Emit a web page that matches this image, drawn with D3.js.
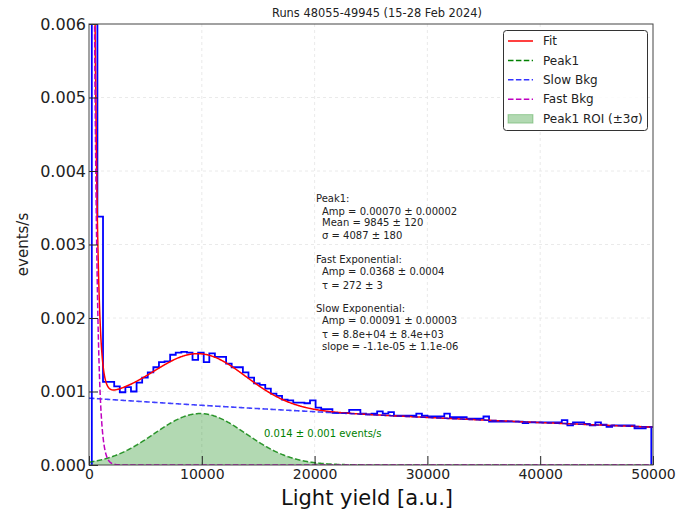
<!DOCTYPE html>
<html>
<head>
<meta charset="utf-8">
<script src="https://cdn.jsdelivr.net/npm/d3@7"></script>
<style>
  body { margin: 0; background: #fff; }
  svg { display: block; }
  text { font-family: "DejaVu Sans", sans-serif; }
</style>
</head>
<body>
<svg width="677" height="512"></svg>
<script>
// histogram (events/s per bin)
var binStart = 250;
var binWidth = 496;
var counts = [
  0.0200, 0.00338, 0.00113, 0.00113, 0.00107, 0.00099, 0.00106, 0.00100, 0.00112, 0.00119,
  0.00126, 0.00133, 0.00140, 0.00141, 0.00150, 0.00153, 0.00154, 0.00153, 0.00143, 0.00153,
  0.00140, 0.00152, 0.00147, 0.00147, 0.00138, 0.00133, 0.00133, 0.00126, 0.00119, 0.00111,
  0.00109, 0.00104, 0.00097, 0.00094, 0.00089, 0.00088, 0.00085, 0.00085, 0.00084, 0.00088,
  0.00078, 0.00076, 0.00076, 0.00071, 0.00071, 0.00071, 0.00075, 0.00075, 0.00070, 0.00069,
  0.00070, 0.00073, 0.00070, 0.00072, 0.00067, 0.00067, 0.00067, 0.00067, 0.00070, 0.00067,
  0.00066, 0.00066, 0.00066, 0.00070, 0.00065, 0.00065, 0.00065, 0.00063, 0.00063, 0.00063,
  0.00066, 0.00059, 0.00059, 0.00059, 0.00059, 0.00059, 0.00059, 0.00057, 0.00058, 0.00058,
  0.00058, 0.00058, 0.00058, 0.00058, 0.00061, 0.00054, 0.00058, 0.00058, 0.00056, 0.00054,
  0.00058, 0.00055, 0.00052, 0.00054, 0.00054, 0.00054, 0.00054, 0.00050, 0.00050, 0.00052
];

// fit parameters shown in the box
var peakParams = [0.00070, 9845, 4087];   // amp, mean, sigma
var fastParams = [0.0368, 272];           // amp, tau
var slowParams = [0.00091, 8.8e4];        // amp, tau

var xTicks = [0, 10000, 20000, 30000, 40000, 50000];
var yTicks = [0, 0.001, 0.002, 0.003, 0.004, 0.005, 0.006];

var statLines = [
  ["Peak1:", 316, 198],
  ["Amp = 0.00070 \u00b1 0.00002", 322, 211],
  ["Mean = 9845 \u00b1 120", 322, 222],
  ["\u03c3 = 4087 \u00b1 180", 322, 235],
  ["Fast Exponential:", 316, 259],
  ["Amp = 0.0368 \u00b1 0.0004", 322, 271],
  ["\u03c4 = 272 \u00b1 3", 322, 285],
  ["Slow Exponential:", 316, 308],
  ["Amp = 0.00091 \u00b1 0.00003", 322, 320],
  ["\u03c4 = 8.8e+04 \u00b1 8.4e+03", 322, 334],
  ["slope = -1.1e-05 \u00b1 1.1e-06", 322, 346]
];

var legendItems = [
  ["Fit", "line", "#ff0000", null],
  ["Peak1", "line", "#008000", "5.5,2.4"],
  ["Slow Bkg", "line", "#3333ff", "5.5,2.4"],
  ["Fast Bkg", "line", "#bf00bf", "5.5,2.4"],
  ["Peak1 ROI (\u00b13\u03c3)", "patch", "#008000", null]
];

var svg = d3.select("svg");
var margin = {left: 89, right: 24, top: 24, bottom: 47};
var W = 677, H = 512;

var x = d3.scaleLinear().domain([0, 50000]).range([margin.left, W - margin.right]);
var y = d3.scaleLinear().domain([0, 0.006]).range([H - margin.bottom, margin.top]);

svg.append("defs").append("clipPath").attr("id", "plotclip")
  .append("rect")
    .attr("x", x(0)).attr("y", y(0.006))
    .attr("width", x(50000) - x(0)).attr("height", y(0) - y(0.006));

// grid
var grid = svg.append("g").attr("class", "grid");
grid.selectAll("line.gx").data(xTicks.slice(1, -1)).enter().append("line")
  .attr("x1", function(d) { return x(d); }).attr("x2", function(d) { return x(d); })
  .attr("y1", y(0)).attr("y2", y(0.006))
  .attr("stroke", "#e4e4e4").attr("stroke-dasharray", "3,3").attr("stroke-width", 0.8);
grid.selectAll("line.gy").data(yTicks.slice(1, -1)).enter().append("line")
  .attr("y1", function(d) { return y(d); }).attr("y2", function(d) { return y(d); })
  .attr("x1", x(0)).attr("x2", x(50000))
  .attr("stroke", "#e4e4e4").attr("stroke-dasharray", "3,3").attr("stroke-width", 0.8);

var plot = svg.append("g").attr("clip-path", "url(#plotclip)");

// model curves
function gauss(v) {
  var z = (v - peakParams[1]) / peakParams[2];
  return peakParams[0] * Math.exp(-0.5 * z * z);
}
function fastExp(v) { return fastParams[0] * Math.exp(-v / fastParams[1]); }
function slowExp(v) { return slowParams[0] * Math.exp(-v / slowParams[1]); }
function total(v) { return gauss(v) + fastExp(v) + slowExp(v); }

var xs = d3.range(0, 2000, 5).concat(d3.range(2000, 50001, 50));

// ROI fill +-3 sigma
var roiLo = Math.max(0, peakParams[1] - 3 * peakParams[2]);
var roiHi = peakParams[1] + 3 * peakParams[2];
var roiXs = xs.filter(function(v) { return v >= roiLo && v <= roiHi; });
plot.append("path")
  .datum(roiXs)
  .attr("fill", "#008000").attr("fill-opacity", 0.3)
  .attr("d", d3.area()
    .x(function(d) { return x(d); })
    .y0(y(0))
    .y1(function(d) { return y(gauss(d)); }));

// histogram
var histPts = [{e: binStart, c: 0}];
counts.forEach(function(c, i) { histPts.push({e: binStart + i * binWidth, c: c}); });
histPts.push({e: binStart + counts.length * binWidth, c: counts[counts.length - 1]});
histPts.push({e: binStart + counts.length * binWidth, c: 0});

plot.append("path")
  .datum(histPts)
  .attr("fill", "none").attr("stroke", "#0000ff").attr("stroke-width", 1.8)
  .attr("d", d3.line()
    .curve(d3.curveStepAfter)
    .x(function(d) { return x(d.e); })
    .y(function(d) { return y(d.c); }));

function curve(fn, color, dash, width, opacity) {
  plot.append("path")
    .datum(xs)
    .attr("fill", "none")
    .attr("stroke", color)
    .attr("stroke-width", width)
    .attr("stroke-opacity", opacity)
    .attr("stroke-dasharray", dash)
    .attr("d", d3.line()
      .x(function(d) { return x(d); })
      .y(function(d) { return y(Math.min(fn(d), 0.01)); }));
}

curve(total, "#ff0000", null, 1.5, 1);
curve(gauss, "#008000", "5.5,2.4", 1.5, 0.8);
curve(slowExp, "#0000ff", "5.5,2.4", 1.6, 0.75);
curve(fastExp, "#bf00bf", "5.5,2.4", 1.5, 1);

// axes
var xAxis = svg.append("g")
  .attr("transform", "translate(0," + y(0) + ")")
  .call(d3.axisBottom(x).tickValues(xTicks).tickFormat(d3.format("d")).tickSizeInner(-9).tickSizeOuter(0).tickPadding(4));
xAxis.select(".domain").remove();
xAxis.selectAll("text").attr("font-size", 14).attr("fill", "#222").attr("font-family", "DejaVu Sans");
xAxis.selectAll("line").attr("stroke", "#222");

var yAxis = svg.append("g")
  .attr("transform", "translate(" + x(0) + ",0)")
  .call(d3.axisLeft(y).tickValues(yTicks).tickFormat(d3.format(".3f")).tickSizeInner(-9).tickSizeOuter(0).tickPadding(3));
yAxis.select(".domain").remove();
yAxis.selectAll("text").attr("font-size", 16).attr("fill", "#222").attr("font-family", "DejaVu Sans");
yAxis.selectAll("line").attr("stroke", "#222");

// frame
svg.append("rect")
  .attr("x", x(0)).attr("y", y(0.006))
  .attr("width", x(50000) - x(0)).attr("height", y(0) - y(0.006))
  .attr("fill", "none").attr("stroke", "#444").attr("stroke-width", 1);

// labels
svg.append("text")
  .attr("x", 367).attr("y", 505)
  .attr("text-anchor", "middle")
  .attr("font-family", "Liberation Sans, Arial, sans-serif")
  .attr("font-size", 21).attr("fill", "#111")
  .text("Light yield [a.u.]");

svg.append("text")
  .attr("transform", "translate(28," + ((y(0) + y(0.006)) / 2) + ") rotate(-90)")
  .attr("text-anchor", "middle")
  .attr("font-size", 15).attr("fill", "#222")
  .text("events/s");

svg.append("text")
  .attr("x", (x(0) + x(50000)) / 2 + 6).attr("y", 17)
  .attr("text-anchor", "middle")
  .attr("font-size", 11.4).attr("fill", "#222")
  .text("Runs 48055-49945 (15-28 Feb 2024)");

// fit stats
svg.append("g").selectAll("text").data(statLines).enter().append("text")
  .attr("x", function(d) { return d[1]; })
  .attr("y", function(d) { return d[2]; })
  .attr("dy", "0.35em")
  .attr("font-size", 10).attr("fill", "#222")
  .text(function(d) { return d[0]; });

svg.append("text")
  .attr("x", 264).attr("y", 433).attr("dy", "0.35em")
  .attr("font-size", 10).attr("fill", "#008000")
  .text("0.014 \u00b1 0.001 events/s");

// legend
var lg = svg.append("g");
lg.append("rect")
  .attr("x", 503.5).attr("y", 30.5).attr("width", 144).attr("height", 100)
  .attr("rx", 3).attr("fill", "#fff").attr("fill-opacity", 0.85)
  .attr("stroke", "#333").attr("stroke-width", 1);
legendItems.forEach(function(d, i) {
  var cy = 41 + i * 19.4;
  if (d[1] === "line") {
    lg.append("line")
      .attr("x1", 508).attr("x2", 533).attr("y1", cy).attr("y2", cy)
      .attr("stroke", d[2]).attr("stroke-width", 1.5)
      .attr("stroke-dasharray", d[3]);
  } else {
    lg.append("rect")
      .attr("x", 508).attr("y", cy - 4).attr("width", 25).attr("height", 8.5)
      .attr("fill", d[2]).attr("fill-opacity", 0.3)
      .attr("stroke", d[2]).attr("stroke-opacity", 0.3);
  }
  lg.append("text")
    .attr("x", 543).attr("y", cy).attr("dy", "0.35em")
    .attr("font-size", 12).attr("fill", "#222")
    .text(d[0]);
});
</script>
</body>
</html>
